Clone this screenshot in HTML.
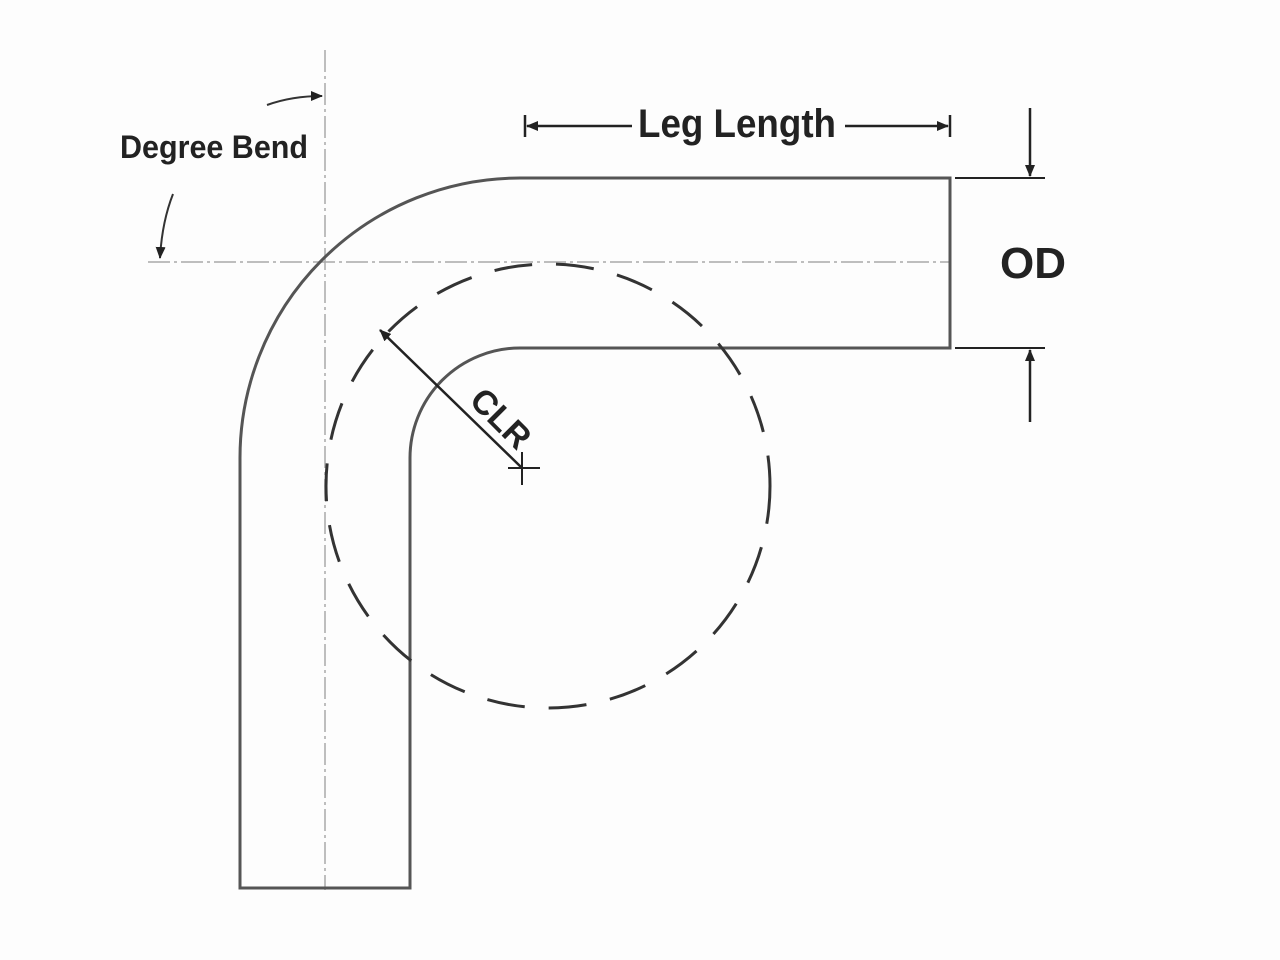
<!DOCTYPE html>
<html><head><meta charset="utf-8"><style>
html,body{margin:0;padding:0;background:#fff;}
svg{display:block}
text{font-family:"Liberation Sans",sans-serif;fill:#222}
</style></head><body>
<svg width="1280" height="960" viewBox="0 0 1280 960" xmlns="http://www.w3.org/2000/svg">
<defs>
<marker id="ah" markerWidth="12" markerHeight="10" refX="11" refY="5" orient="auto" markerUnits="userSpaceOnUse">
<path d="M0,0 L12,5 L0,10 Z" fill="#222"/></marker>
</defs>
<rect width="1280" height="960" fill="#fdfdfd"/>
<!-- centerlines -->
<line x1="325" y1="50" x2="325" y2="890" stroke="#aaa" stroke-width="1.5" stroke-dasharray="22,4,3,4"/>
<line x1="148" y1="262" x2="950" y2="262" stroke="#aaa" stroke-width="1.5" stroke-dasharray="22,4,3,4"/>
<!-- pipe -->
<path d="M240,888 L240,460 A280,280 0 0 1 520,178 L950,178 L950,348 L520,348 A110,110 0 0 0 410,458 L410,888 Z" fill="none" stroke="#555" stroke-width="3"/>
<!-- dashed circle -->
<circle cx="548" cy="486" r="222" fill="none" stroke="#333" stroke-width="3" stroke-dasharray="38,24"/>
<!-- CLR -->
<line x1="522" y1="468" x2="380" y2="330" stroke="#222" stroke-width="2.5" marker-end="url(#ah)"/>
<line x1="508" y1="468" x2="540" y2="468" stroke="#222" stroke-width="2"/>
<line x1="522" y1="452" x2="522" y2="485" stroke="#222" stroke-width="2"/>
<text x="0" y="0" font-size="34" font-weight="bold" transform="translate(468,402) rotate(45)" style="font-stretch:condensed">CLR</text>
<!-- Leg length -->
<line x1="525" y1="115" x2="525" y2="137" stroke="#222" stroke-width="2.5"/>
<line x1="950" y1="115" x2="950" y2="137" stroke="#222" stroke-width="2.5"/>
<line x1="632" y1="126" x2="527" y2="126" stroke="#222" stroke-width="2.5" marker-end="url(#ah)"/>
<line x1="845" y1="126" x2="948" y2="126" stroke="#222" stroke-width="2.5" marker-end="url(#ah)"/>
<text x="737" y="137" font-size="40" font-weight="bold" text-anchor="middle" textLength="198" lengthAdjust="spacingAndGlyphs">Leg Length</text>
<!-- OD -->
<line x1="955" y1="178" x2="1045" y2="178" stroke="#222" stroke-width="2"/>
<line x1="955" y1="348" x2="1045" y2="348" stroke="#222" stroke-width="2"/>
<line x1="1030" y1="108" x2="1030" y2="176" stroke="#222" stroke-width="2.5" marker-end="url(#ah)"/>
<line x1="1030" y1="422" x2="1030" y2="350" stroke="#222" stroke-width="2.5" marker-end="url(#ah)"/>
<text x="1033" y="278" font-size="44" font-weight="bold" text-anchor="middle">OD</text>
<!-- Degree bend -->
<text x="120" y="158" font-size="32" font-weight="bold" textLength="188" lengthAdjust="spacingAndGlyphs">Degree Bend</text>
<path d="M267,105 Q292,96 322,96" fill="none" stroke="#333" stroke-width="2" marker-end="url(#ah)"/>
<path d="M173,194 Q162,222 160,258" fill="none" stroke="#333" stroke-width="2" marker-end="url(#ah)"/>
</svg>
</body></html>
